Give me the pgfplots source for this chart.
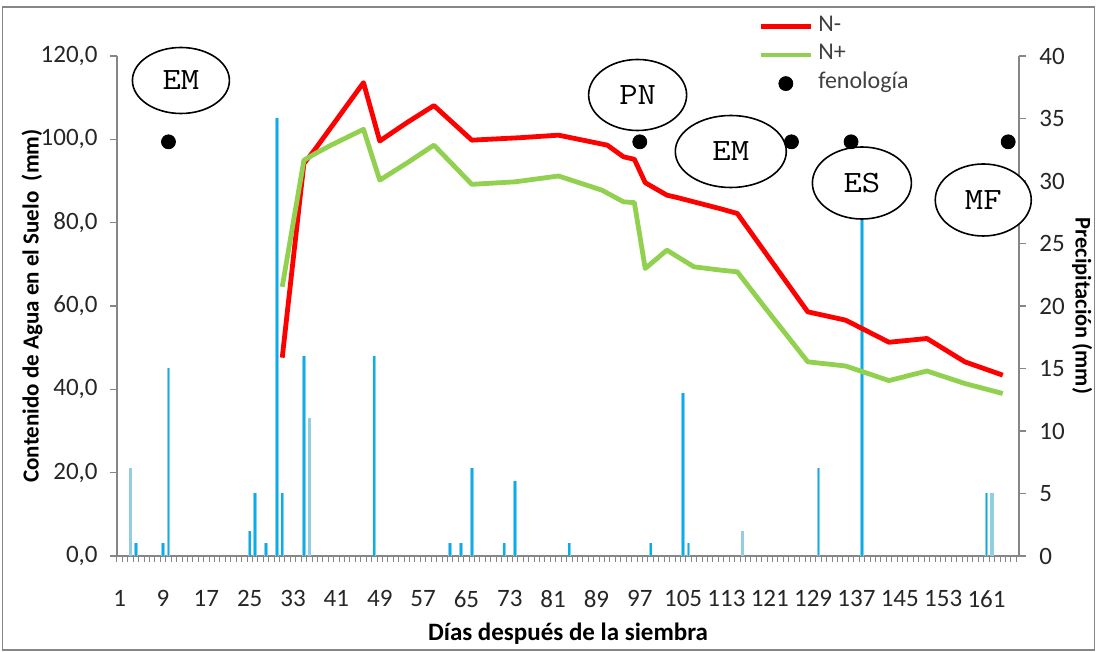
\documentclass[border=0pt]{standalone}
\usepackage{pgfplots}
\pgfplotsset{compat=1.18}
\usetikzlibrary{shapes.geometric}
\usepackage{fontspec}
\setmainfont{Carlito}
\definecolor{nmenos}{RGB}{255,0,0}
\definecolor{nmas}{RGB}{146,208,80}
\definecolor{lluvia}{RGB}{0,176,240}
\definecolor{lluvialight}{RGB}{146,205,225}
\definecolor{axisgray}{RGB}{134,134,134}
\definecolor{legtxt}{RGB}{64,64,64}
\pgfplotsset{
  leglinea/.style={legend image code/.code={\draw[##1] (0pt,0pt) -- (25pt,0pt);}},
  legpunto/.style={legend image code/.code={\draw[##1] plot coordinates {(12.5pt,0pt)};}},
}

\begin{document}
\begin{tikzpicture}[x=1pt,y=1pt]
\path[use as bounding box] (-58.5,-48) rectangle (489.5,278);
\draw[axisgray, line width=0.9pt] (-57.25,-47) rectangle (488.75,274.5);

% ---------- precipitation (right axis) ----------
\begin{axis}[
  at={(0,0)}, anchor=south west,
  scale only axis, width=451pt, height=250pt,
  xmin=0.5, xmax=167, ymin=0, ymax=40,
  axis x line*=bottom, axis y line*=right,
  axis line style={draw=axisgray, line width=0.8pt},
  clip=false,
  /pgf/number format/assume math mode=true,
  xtick={1,9,...,161},
  minor xtick={0.5,1.5,...,166.5},
  major x tick style={draw=none},
  minor x tick style={draw=axisgray, line width=0.5pt},
  minor tick length=3pt,
  ytick={0,5,...,40},
  y tick style={draw=axisgray, line width=0.8pt},
  major tick length=3.5pt,
  tick align=outside,
  xticklabel style={font=\fontsize{12.5}{14}\selectfont, text=black!85, anchor=north, inner sep=0pt, yshift=-13.5pt},
  yticklabel style={font=\fontsize{12.5}{14}\selectfont, text=black!85, anchor=west, inner sep=0pt, xshift=6.5pt},
  ylabel={\textbf{Precipitación (mm)}},
  ylabel style={at={(axis description cs:1.07,0.5)}, anchor=center, rotate=180, font=\fontsize{11.2}{13}\selectfont},
  xlabel={\textbf{Días después de la siembra}},
  xlabel style={at={(axis description cs:0.5,-0.156)}, anchor=center, font=\fontsize{12.5}{14}\selectfont},
]
% light edge for all bars
\addplot[ycomb, draw=lluvialight, line width=1.7pt, mark=none] coordinates {
 (3,7) (4,1) (9,1) (10,15) (25,2) (26,5) (28,1) (30,35) (31,5) (35,16) (36,11)
 (48,16) (62,1) (64,1) (66,7) (72,1) (74,6) (84,1) (99,1) (105,13) (106,1)
 (116,2) (130,7) (138,30) (161,5) (162,5)
};
% bright core
\addplot[ycomb, draw=lluvia, line width=0.9pt, mark=none] coordinates {
 (4,1) (9,1) (10,15) (25,2) (26,5) (28,1) (30,35) (31,5) (35,16)
 (48,16) (62,1) (64,1) (66,7) (72,1) (74,6) (84,1) (99,1) (105,13) (106,1)
 (130,7) (138,30) (161,5)
};
\tikzset{ell/.style={draw=black, line width=0.8pt, fill=white, ellipse, inner sep=0pt},
         elltext/.style={font=\ttfamily\fontsize{15.5}{16}\selectfont, xscale=1.15, inner sep=0pt}}
\node[ell, minimum width=48.5pt, minimum height=33pt] at (axis cs:12.3,38.04) {};
\node[elltext] at (axis cs:12.3,38.04) {EM};
\node[ell, minimum width=49pt, minimum height=35.5pt] at (axis cs:96.6,36.88) {};
\node[elltext] at (axis cs:96.6,36.88) {PN};
\node[ell, minimum width=55.5pt, minimum height=36pt] at (axis cs:113.8,32.36) {};
\node[elltext] at (axis cs:113.8,32.36) {EM};
\node[ell, minimum width=49.5pt, minimum height=36pt] at (axis cs:138,29.84) {};
\node[elltext] at (axis cs:138,29.84) {ES};
\node[ell, minimum width=48pt, minimum height=36pt] at (axis cs:160.4,28.48) {};
\node[elltext] at (axis cs:160.4,28.48) {MF};
\end{axis}

% ---------- soil water (left axis) ----------
\begin{axis}[
  at={(0,0)}, anchor=south west,
  scale only axis, width=451pt, height=250pt,
  xmin=0.5, xmax=167, ymin=0, ymax=120,
  axis x line=none, axis y line*=left,
  axis line style={draw=axisgray, line width=0.8pt},
  clip=false,
  ytick={0,20,...,120},
  y tick style={draw=axisgray, line width=0.8pt},
  major tick length=3.5pt,
  tick align=outside,
  yticklabel style={font=\fontsize{12.5}{14}\selectfont, text=black!85, anchor=east, inner sep=0pt, xshift=-6pt,
    /pgf/number format/.cd, fixed, fixed zerofill, precision=1, use comma, assume math mode=true},
  ylabel={\textbf{Contenido de Agua en el Suelo\ \ (mm)}},
  ylabel style={at={(axis description cs:-0.0941,0.5)}, anchor=center, font=\fontsize{11.5}{13}\selectfont},
  legend style={at={(rel axis cs:0.7107,1.078)}, anchor=north west, draw=none, fill=none,
    inner sep=0pt, row sep=5.3pt, font=\fontsize{12}{13}\selectfont, text=legtxt,
    nodes={inner sep=0pt, text height=7pt, text depth=2pt},
    /tikz/every odd column/.append style={column sep=2.5pt}},
  legend cell align=left,
]
\addplot[nmenos, line width=2.4pt, line join=round, leglinea] coordinates {
 (31,47.6) (35,94.2) (37,97.5) (46,113.6) (49,99.6) (54,104.0) (59,108.1) (66,99.8)
 (75,100.4) (82,101.0) (88,99.4) (91,98.6) (94,95.8) (96,95.2) (98,89.6)
 (102,86.6) (104,86.0) (112,83.3) (115,82.2) (128,58.6) (135,56.6)
 (143,51.3) (150,52.2) (157,46.6) (164,43.4)
};
\addlegendentry{N-}
\addplot[nmas, line width=2.4pt, line join=round, leglinea] coordinates {
 (31,64.6) (35,95.0) (37,96.5) (40,98.6) (46,102.4) (49,90.2) (54,94.3) (59,98.6)
 (66,89.2) (74,89.8) (82,91.2) (90,87.8) (94,85.0) (96,84.8) (98,69.0)
 (102,73.4) (107,69.4) (112,68.6) (115,68.2) (120,59.8) (128,46.6) (135,45.6)
 (143,42.1) (150,44.4) (157,41.4) (164,39.0)
};
\addlegendentry{N+}
\addplot[only marks, mark=*, mark size=3.5pt, black, fill=black, legpunto] coordinates {
 (10,99.4) (97,99.4) (125,99.4) (136,99.4) (165,99.4)
};
\addlegendentry{fenología}
\end{axis}
\end{tikzpicture}
\end{document}
